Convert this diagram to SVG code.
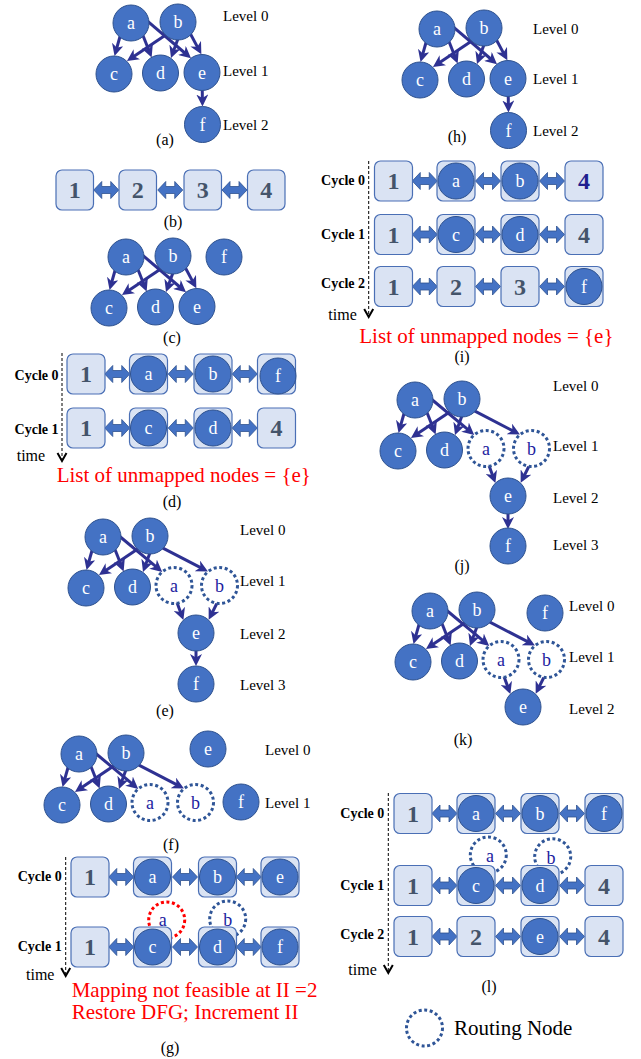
<svg xmlns="http://www.w3.org/2000/svg" width="641" height="1059" viewBox="0 0 641 1059">
<defs>
<style>
text{font-family:"Liberation Serif","Times New Roman",serif}
.n circle{fill:#4472C4;stroke:#2F528F;stroke-width:1}
.n text{fill:#fff;font-size:18px;text-anchor:middle}
.rt circle{fill:#fff;stroke:#2F5597;stroke-width:3;stroke-dasharray:3 2.6}
.rg circle{fill:none;stroke:#2F5597;stroke-width:3;stroke-dasharray:3 2.6}
.rr circle{fill:none;stroke:#FF0000;stroke-width:3;stroke-dasharray:3 2.6}
.rt text,.rg text,.rr text{fill:#1C1CA0;font-size:18px;text-anchor:middle}
.edges line{stroke:#2E3192;stroke-width:3;marker-end:url(#ah)}
.bx rect{fill:#DAE3F3;stroke:#4A6FB5;stroke-width:1.2}
.bx text{fill:#44546A;font-size:24px;font-weight:bold;text-anchor:middle}
.bx text.nv{fill:#1F1F8F}
.lv{font-size:15px;fill:#000}
.cap{font-size:16px;text-anchor:middle;fill:#000}
.cyc{font-size:14px;font-weight:bold;text-anchor:end;fill:#000}
.tm{font-size:16px;fill:#000}
.red{font-size:21px;fill:#FF0000}
.ax line{stroke:#000;stroke-width:1;stroke-dasharray:3 2}
.ax path{fill:none;stroke:#000;stroke-width:2}
.da use{fill:#4472C4;stroke:#2F528F;stroke-width:0.8}
</style>
<marker id="ah" viewBox="0 0 12 12" refX="7" refY="6" markerWidth="12" markerHeight="12" markerUnits="userSpaceOnUse" orient="auto"><path d="M0 0 L12 6 L0 12 L3.5 6 Z" fill="#2E3192"/></marker>
<path id="dbl" d="M0 0 l8 -8.5 v5 h9 v-5 l8 8.5 l-8 8.5 v-5 h-9 v5 z"/>
</defs>
<rect width="641" height="1059" fill="#fff"/>

<!-- (a) -->
<g id="fig-a">
<g transform="translate(131,23)">
<g id="a-edges" class="edges">
<line x1="-10" y1="10" x2="-15.1" y2="28.1"/>
<line x1="11" y1="10" x2="18.8" y2="29.8"/>
<line x1="15.3" y1="-2.9" x2="56.2" y2="32"/>
<line x1="39.1" y1="8.9" x2="0.1" y2="35.2"/>
<line x1="48.6" y1="11.2" x2="41.7" y2="30.3"/>
<line x1="57.9" y1="8" x2="68" y2="26.9"/>
<line x1="71.2" y1="62" x2="71.4" y2="78.5"/>
</g>
<g id="a-na" class="n"><circle cx="0" cy="0" r="18"/><text x="0" y="6">a</text></g>
<g id="a-nb" class="n"><circle cx="47" cy="-1" r="18"/><text x="47" y="5">b</text></g>
<g id="a-nc" class="n"><circle cx="-17" cy="51" r="18"/><text x="-17" y="57">c</text></g>
<g id="a-nd" class="n"><circle cx="29.5" cy="50" r="18"/><text x="29.5" y="56">d</text></g>
<g id="a-ne" class="n"><circle cx="71" cy="49.5" r="18"/><text x="71" y="55.5">e</text></g>
<g id="a-nf" class="n"><circle cx="71.5" cy="101.5" r="18"/><text x="71.5" y="107.5">f</text></g>
</g>
<text class="lv" x="223" y="21">Level 0</text>
<text class="lv" x="223" y="76">Level 1</text>
<text class="lv" x="223" y="130">Level 2</text>
<text class="cap" x="165" y="145">(a)</text>
</g>

<!-- (b) -->
<g id="fig-b">
<g id="b-arrows" class="da">
<use href="#dbl" x="93.75" y="190"/>
<use href="#dbl" x="157.75" y="190"/>
<use href="#dbl" x="222" y="190"/>
</g>
<g id="b-1" class="bx"><rect x="56" y="170" width="37.5" height="40" rx="6"/><text x="74.75" y="198">1</text></g>
<g id="b-2" class="bx"><rect x="119" y="170" width="37.5" height="40" rx="6"/><text x="137.75" y="198">2</text></g>
<g id="b-3" class="bx"><rect x="184" y="170" width="37.5" height="40" rx="6"/><text x="202.75" y="198">3</text></g>
<g id="b-4" class="bx"><rect x="247.5" y="170" width="37.5" height="40" rx="6"/><text x="266.25" y="198">4</text></g>
<text class="cap" x="173" y="227">(b)</text>
</g>

<!-- (c) -->
<g id="fig-c">
<g transform="translate(126,257)">
<g id="c-edges" class="edges">
<line x1="-10" y1="10" x2="-15.1" y2="28.1"/>
<line x1="11" y1="10" x2="18.8" y2="29.8"/>
<line x1="15.3" y1="-2.9" x2="56.2" y2="32"/>
<line x1="39.1" y1="8.9" x2="0.1" y2="35.2"/>
<line x1="48.6" y1="11.2" x2="41.7" y2="30.3"/>
<line x1="57.9" y1="8" x2="68" y2="26.9"/>
</g>
<g id="c-na" class="n"><circle cx="0" cy="0" r="18"/><text x="0" y="6">a</text></g>
<g id="c-nb" class="n"><circle cx="47" cy="-1" r="18"/><text x="47" y="5">b</text></g>
<g id="c-nf" class="n"><circle cx="98" cy="0" r="18"/><text x="98" y="6">f</text></g>
<g id="c-nc" class="n"><circle cx="-17" cy="51" r="18"/><text x="-17" y="57">c</text></g>
<g id="c-nd" class="n"><circle cx="29.5" cy="50" r="18"/><text x="29.5" y="56">d</text></g>
<g id="c-ne" class="n"><circle cx="71" cy="49.5" r="18"/><text x="71" y="55.5">e</text></g>
</g>
<text class="cap" x="172" y="343">(c)</text>
</g>

<!-- (d) -->
<g id="fig-d">
<g id="d-axis" class="ax"><line x1="62" y1="353" x2="62" y2="459"/><path d="M57.5 453 L62 461 L66.5 453"/></g>
<text class="cyc" x="58.5" y="380">Cycle 0</text>
<text class="cyc" x="58.5" y="434">Cycle 1</text>
<text class="tm" x="16.7" y="461">time</text>
<g id="d-arrows" class="da">
<use href="#dbl" x="104.75" y="374"/><use href="#dbl" x="168.25" y="374"/><use href="#dbl" x="232.25" y="374"/>
<use href="#dbl" x="104.75" y="428"/><use href="#dbl" x="168.25" y="428"/><use href="#dbl" x="232.25" y="428"/>
</g>
<g id="d-r0c0" class="bx"><rect x="67" y="354" width="38" height="40" rx="6"/><text x="86" y="382">1</text></g>
<g id="d-r0c1" class="bx"><rect x="129.5" y="354" width="38" height="40" rx="6"/></g>
<g id="d-r0c1n" class="n"><circle cx="148.5" cy="374" r="18"/><text x="148.5" y="380">a</text></g>
<g id="d-r0c2" class="bx"><rect x="194" y="354" width="38" height="40" rx="6"/></g>
<g id="d-r0c2n" class="n"><circle cx="213" cy="374" r="18"/><text x="213" y="380">b</text></g>
<g id="d-r0c3" class="bx"><rect x="257.5" y="354" width="38" height="40" rx="6"/></g>
<g id="d-r0c3n" class="n"><circle cx="278" cy="376" r="18"/><text x="278" y="382">f</text></g>
<g id="d-r1c0" class="bx"><rect x="67" y="408" width="38" height="40" rx="6"/><text x="86" y="436">1</text></g>
<g id="d-r1c1" class="bx"><rect x="129.5" y="408" width="38" height="40" rx="6"/></g>
<g id="d-r1c1n" class="n"><circle cx="148.5" cy="428" r="18"/><text x="148.5" y="434">c</text></g>
<g id="d-r1c2" class="bx"><rect x="194" y="408" width="38" height="40" rx="6"/></g>
<g id="d-r1c2n" class="n"><circle cx="213" cy="428" r="18"/><text x="213" y="434">d</text></g>
<g id="d-r1c3" class="bx"><rect x="257.5" y="408" width="38" height="40" rx="6"/><text x="276.5" y="436">4</text></g>
<text class="red" x="56.7" y="482">List of unmapped nodes = {e}</text>
<text class="cap" x="172" y="507">(d)</text>
</g>

<!-- (e) -->
<g id="fig-e">
<g transform="translate(103,537)">
<g id="e-edges" class="edges">
<line x1="-10" y1="10" x2="-15.1" y2="28.1"/>
<line x1="11" y1="10" x2="18.8" y2="29.8"/>
<line x1="15" y1="-2" x2="55.4" y2="31.7"/>
<line x1="39.1" y1="8.9" x2="0.1" y2="35.2"/>
<line x1="48.6" y1="11.2" x2="41.7" y2="30.3"/>
<line x1="58" y1="10.2" x2="100.5" y2="32.2"/>
<line x1="72" y1="60" x2="78.7" y2="78.4"/>
<line x1="117" y1="60" x2="107.9" y2="78.3"/>
<line x1="93" y1="110" x2="93" y2="124"/>
</g>
<g id="e-na" class="n"><circle cx="0" cy="0" r="18"/><text x="0" y="6">a</text></g>
<g id="e-nb" class="n"><circle cx="47" cy="-1" r="18"/><text x="47" y="5">b</text></g>
<g id="e-nc" class="n"><circle cx="-17" cy="51" r="18"/><text x="-17" y="57">c</text></g>
<g id="e-nd" class="n"><circle cx="29.5" cy="50" r="18"/><text x="29.5" y="56">d</text></g>
<g id="e-ra" class="rt"><circle cx="71" cy="48.5" r="18"/><text x="71" y="54.5">a</text></g>
<g id="e-rb" class="rt"><circle cx="116.5" cy="48.5" r="18"/><text x="116.5" y="54.5">b</text></g>
<g id="e-ne" class="n"><circle cx="93" cy="96" r="18"/><text x="93" y="102">e</text></g>
<g id="e-nf" class="n"><circle cx="93" cy="147" r="18"/><text x="93" y="153">f</text></g>
</g>
<text class="lv" x="240" y="535">Level 0</text>
<text class="lv" x="240" y="586">Level 1</text>
<text class="lv" x="240" y="639">Level 2</text>
<text class="lv" x="240" y="690">Level 3</text>
<text class="cap" x="165" y="716">(e)</text>
</g>

<!-- (f) -->
<g id="fig-f">
<g transform="translate(79,754)">
<g id="f-edges" class="edges">
<line x1="-10" y1="10" x2="-15.1" y2="28.1"/>
<line x1="11" y1="10" x2="18.8" y2="29.8"/>
<line x1="15" y1="-2" x2="55.4" y2="31.7"/>
<line x1="39.1" y1="8.9" x2="0.1" y2="35.2"/>
<line x1="48.6" y1="11.2" x2="41.7" y2="30.3"/>
<line x1="58" y1="10.2" x2="100.5" y2="32.2"/>
</g>
<g id="f-na" class="n"><circle cx="0" cy="0" r="18"/><text x="0" y="6">a</text></g>
<g id="f-nb" class="n"><circle cx="47" cy="-1" r="18"/><text x="47" y="5">b</text></g>
<g id="f-nc" class="n"><circle cx="-17" cy="51" r="18"/><text x="-17" y="57">c</text></g>
<g id="f-nd" class="n"><circle cx="29.5" cy="50" r="18"/><text x="29.5" y="56">d</text></g>
<g id="f-ra" class="rt"><circle cx="71" cy="48.5" r="18"/><text x="71" y="54.5">a</text></g>
<g id="f-rb" class="rt"><circle cx="116.5" cy="48.5" r="18"/><text x="116.5" y="54.5">b</text></g>
</g>
<g id="f-ne" class="n"><circle cx="208" cy="749" r="18"/><text x="208" y="755">e</text></g>
<g id="f-nf" class="n"><circle cx="241" cy="802" r="18"/><text x="241" y="808">f</text></g>
<text class="lv" x="265" y="755">Level 0</text>
<text class="lv" x="265" y="808">Level 1</text>
<text class="cap" x="171" y="850">(f)</text>
</g>

<!-- (g) -->
<g id="fig-g">
<g id="g-axis" class="ax"><line x1="65.7" y1="857" x2="65.7" y2="974"/><path d="M61.2 968 L65.7 976 L70.2 968"/></g>
<text class="cyc" x="61.7" y="881">Cycle 0</text>
<text class="cyc" x="61.7" y="951">Cycle 1</text>
<text class="tm" x="26" y="980">time</text>
<g id="g-ra" class="rr"><circle cx="166.7" cy="920" r="18"/><text x="162.7" y="926">a</text></g>
<g id="g-rb" class="rg"><circle cx="227.7" cy="919" r="18"/><text x="227.7" y="926">b</text></g>
<g id="g-arrows" class="da">
<use href="#dbl" x="108.75" y="877"/><use href="#dbl" x="172.5" y="877"/><use href="#dbl" x="236.25" y="877"/>
<use href="#dbl" x="108.75" y="947"/><use href="#dbl" x="172.5" y="947"/><use href="#dbl" x="236.25" y="947"/>
</g>
<g id="g-r0c0" class="bx"><rect x="71" y="857" width="38" height="40" rx="6"/><text x="90" y="885">1</text></g>
<g id="g-r0c1" class="bx"><rect x="133.5" y="857" width="38" height="40" rx="6"/></g>
<g id="g-r0c1n" class="n"><circle cx="152.5" cy="877" r="18"/><text x="152.5" y="883">a</text></g>
<g id="g-r0c2" class="bx"><rect x="198.5" y="857" width="38" height="40" rx="6"/></g>
<g id="g-r0c2n" class="n"><circle cx="217.5" cy="877" r="18"/><text x="217.5" y="883">b</text></g>
<g id="g-r0c3" class="bx"><rect x="261" y="857" width="38" height="40" rx="6"/></g>
<g id="g-r0c3n" class="n"><circle cx="280" cy="877" r="18"/><text x="280" y="883">e</text></g>
<g id="g-r1c0" class="bx"><rect x="71" y="927" width="38" height="40" rx="6"/><text x="90" y="955">1</text></g>
<g id="g-r1c1" class="bx"><rect x="133.5" y="927" width="38" height="40" rx="6"/></g>
<g id="g-r1c1n" class="n"><circle cx="152.5" cy="947" r="18"/><text x="152.5" y="953">c</text></g>
<g id="g-r1c2" class="bx"><rect x="198.5" y="927" width="38" height="40" rx="6"/></g>
<g id="g-r1c2n" class="n"><circle cx="217.5" cy="947" r="18"/><text x="217.5" y="953">d</text></g>
<g id="g-r1c3" class="bx"><rect x="261" y="927" width="38" height="40" rx="6"/></g>
<g id="g-r1c3n" class="n"><circle cx="280" cy="947" r="18"/><text x="280" y="953">f</text></g>
<text class="red" x="71.7" y="997">Mapping not feasible at II =2</text>
<text class="red" x="71.7" y="1019">Restore DFG; Increment II</text>
<text class="cap" x="170" y="1053">(g)</text>
</g>

<!-- (h) -->
<g id="fig-h">
<g transform="translate(437,29)">
<g id="h-edges" class="edges">
<line x1="-10" y1="10" x2="-15.1" y2="28.1"/>
<line x1="11" y1="10" x2="18.8" y2="29.8"/>
<line x1="15.3" y1="-2.9" x2="56.2" y2="32"/>
<line x1="39.1" y1="8.9" x2="0.1" y2="35.2"/>
<line x1="48.6" y1="11.2" x2="41.7" y2="30.3"/>
<line x1="57.9" y1="8" x2="68" y2="26.9"/>
<line x1="71.2" y1="62" x2="71.4" y2="78.5"/>
</g>
<g id="h-na" class="n"><circle cx="0" cy="0" r="18"/><text x="0" y="6">a</text></g>
<g id="h-nb" class="n"><circle cx="47" cy="-1" r="18"/><text x="47" y="5">b</text></g>
<g id="h-nc" class="n"><circle cx="-17" cy="51" r="18"/><text x="-17" y="57">c</text></g>
<g id="h-nd" class="n"><circle cx="29.5" cy="50" r="18"/><text x="29.5" y="56">d</text></g>
<g id="h-ne" class="n"><circle cx="71" cy="49.5" r="18"/><text x="71" y="55.5">e</text></g>
<g id="h-nf" class="n"><circle cx="71.5" cy="101.5" r="18"/><text x="71.5" y="107.5">f</text></g>
</g>
<text class="lv" x="533" y="34">Level 0</text>
<text class="lv" x="533" y="84">Level 1</text>
<text class="lv" x="533" y="136">Level 2</text>
<text class="cap" x="457" y="142">(h)</text>
</g>

<!-- (i) -->
<g id="fig-i">
<g id="i-axis" class="ax"><line x1="368.7" y1="161" x2="368.7" y2="314"/><path d="M364.2 309 L368.7 317 L373.2 309"/></g>
<text class="cyc" x="365" y="185">Cycle 0</text>
<text class="cyc" x="365" y="239">Cycle 1</text>
<text class="cyc" x="365" y="288">Cycle 2</text>
<text class="tm" x="328.3" y="320">time</text>
<g id="i-arrows" class="da">
<use href="#dbl" x="412.25" y="181"/><use href="#dbl" x="475.5" y="181"/><use href="#dbl" x="539.5" y="181"/>
<use href="#dbl" x="412.25" y="234.5"/><use href="#dbl" x="475.5" y="234.5"/><use href="#dbl" x="539.5" y="234.5"/>
<use href="#dbl" x="412.25" y="286.5"/><use href="#dbl" x="475.5" y="286.5"/><use href="#dbl" x="539.5" y="286.5"/>
</g>
<g id="i-r0c0" class="bx"><rect x="374.5" y="161" width="38" height="40" rx="6"/><text x="393.5" y="189">1</text></g>
<g id="i-r0c1" class="bx"><rect x="437" y="161" width="38" height="40" rx="6"/></g>
<g id="i-r0c1n" class="n"><circle cx="456" cy="181" r="18"/><text x="456" y="187">a</text></g>
<g id="i-r0c2" class="bx"><rect x="501" y="161" width="38" height="40" rx="6"/></g>
<g id="i-r0c2n" class="n"><circle cx="520" cy="181" r="18"/><text x="520" y="187">b</text></g>
<g id="i-r0c3" class="bx"><rect x="565" y="161" width="38" height="40" rx="6"/><text class="nv" x="584" y="189">4</text></g>
<g id="i-r1c0" class="bx"><rect x="374.5" y="214.5" width="38" height="40" rx="6"/><text x="393.5" y="242.5">1</text></g>
<g id="i-r1c1" class="bx"><rect x="437" y="214.5" width="38" height="40" rx="6"/></g>
<g id="i-r1c1n" class="n"><circle cx="456" cy="234.5" r="18"/><text x="456" y="240.5">c</text></g>
<g id="i-r1c2" class="bx"><rect x="501" y="214.5" width="38" height="40" rx="6"/></g>
<g id="i-r1c2n" class="n"><circle cx="520" cy="234.5" r="18"/><text x="520" y="240.5">d</text></g>
<g id="i-r1c3" class="bx"><rect x="565" y="214.5" width="38" height="40" rx="6"/><text x="584" y="242.5">4</text></g>
<g id="i-r2c0" class="bx"><rect x="374.5" y="266.5" width="38" height="40" rx="6"/><text x="393.5" y="294.5">1</text></g>
<g id="i-r2c1" class="bx"><rect x="437" y="266.5" width="38" height="40" rx="6"/><text x="456" y="294.5">2</text></g>
<g id="i-r2c2" class="bx"><rect x="501" y="266.5" width="38" height="40" rx="6"/><text x="520" y="294.5">3</text></g>
<g id="i-r2c3" class="bx"><rect x="565" y="266.5" width="38" height="40" rx="6"/></g>
<g id="i-r2c3n" class="n"><circle cx="584" cy="286.5" r="18"/><text x="584" y="292.5">f</text></g>
<text class="red" x="359.3" y="343">List of unmapped nodes = {e}</text>
<text class="cap" x="462" y="362">(i)</text>
</g>

<!-- (j) -->
<g id="fig-j">
<g transform="translate(415,400)">
<g id="j-edges" class="edges">
<line x1="-10" y1="10" x2="-15.1" y2="28.1"/>
<line x1="11" y1="10" x2="18.8" y2="29.8"/>
<line x1="15" y1="-2" x2="55.4" y2="31.7"/>
<line x1="39.1" y1="8.9" x2="0.1" y2="35.2"/>
<line x1="48.6" y1="11.2" x2="41.7" y2="30.3"/>
<line x1="58" y1="10.2" x2="100.5" y2="32.2"/>
<line x1="72" y1="60" x2="78.7" y2="78.4"/>
<line x1="117" y1="60" x2="107.9" y2="78.3"/>
<line x1="93" y1="110" x2="93" y2="124"/>
</g>
<g id="j-na" class="n"><circle cx="0" cy="0" r="18"/><text x="0" y="6">a</text></g>
<g id="j-nb" class="n"><circle cx="47" cy="-1" r="18"/><text x="47" y="5">b</text></g>
<g id="j-nc" class="n"><circle cx="-17" cy="51" r="18"/><text x="-17" y="57">c</text></g>
<g id="j-nd" class="n"><circle cx="29.5" cy="50" r="18"/><text x="29.5" y="56">d</text></g>
<g id="j-ra" class="rt"><circle cx="71" cy="48.5" r="18"/><text x="71" y="54.5">a</text></g>
<g id="j-rb" class="rt"><circle cx="116.5" cy="48.5" r="18"/><text x="116.5" y="54.5">b</text></g>
<g id="j-ne" class="n"><circle cx="93" cy="96" r="18"/><text x="93" y="102">e</text></g>
<g id="j-nf" class="n"><circle cx="93" cy="146" r="18"/><text x="93" y="152">f</text></g>
</g>
<text class="lv" x="553" y="391">Level 0</text>
<text class="lv" x="553" y="451">Level 1</text>
<text class="lv" x="553" y="503">Level 2</text>
<text class="lv" x="553" y="550">Level 3</text>
<text class="cap" x="462" y="571">(j)</text>
</g>

<!-- (k) -->
<g id="fig-k">
<g transform="translate(430,611)">
<g id="k-edges" class="edges">
<line x1="-10" y1="10" x2="-15.1" y2="28.1"/>
<line x1="11" y1="10" x2="18.8" y2="29.8"/>
<line x1="15" y1="-2" x2="55.4" y2="31.7"/>
<line x1="39.1" y1="8.9" x2="0.1" y2="35.2"/>
<line x1="48.6" y1="11.2" x2="41.7" y2="30.3"/>
<line x1="58" y1="10.2" x2="100.5" y2="32.2"/>
<line x1="72" y1="60" x2="78.7" y2="78.4"/>
<line x1="117" y1="60" x2="107.9" y2="78.3"/>
</g>
<g id="k-na" class="n"><circle cx="0" cy="0" r="18"/><text x="0" y="6">a</text></g>
<g id="k-nb" class="n"><circle cx="47" cy="-1" r="18"/><text x="47" y="5">b</text></g>
<g id="k-nf" class="n"><circle cx="115" cy="2" r="18"/><text x="115" y="8">f</text></g>
<g id="k-nc" class="n"><circle cx="-17" cy="51" r="18"/><text x="-17" y="57">c</text></g>
<g id="k-nd" class="n"><circle cx="29.5" cy="50" r="18"/><text x="29.5" y="56">d</text></g>
<g id="k-ra" class="rt"><circle cx="71" cy="48.5" r="18"/><text x="71" y="54.5">a</text></g>
<g id="k-rb" class="rt"><circle cx="116.5" cy="48.5" r="18"/><text x="116.5" y="54.5">b</text></g>
<g id="k-ne" class="n"><circle cx="93" cy="96" r="18"/><text x="93" y="102">e</text></g>
</g>
<text class="lv" x="569" y="611">Level 0</text>
<text class="lv" x="569" y="662">Level 1</text>
<text class="lv" x="569" y="714">Level 2</text>
<text class="cap" x="463" y="745">(k)</text>
</g>

<!-- (l) -->
<g id="fig-l">
<g id="l-axis" class="ax"><line x1="388.3" y1="793" x2="388.3" y2="971"/><path d="M383.8 965 L388.3 973 L392.8 965"/></g>
<text class="cyc" x="384.3" y="818">Cycle 0</text>
<text class="cyc" x="384.3" y="890">Cycle 1</text>
<text class="cyc" x="384.3" y="939">Cycle 2</text>
<text class="tm" x="348.3" y="975">time</text>
<g id="l-ra" class="rg"><circle cx="488.3" cy="855" r="18"/><text x="490" y="862">a</text></g>
<g id="l-rb" class="rg"><circle cx="552.7" cy="856.7" r="18"/><text x="551" y="864">b</text></g>
<g id="l-arrows" class="da">
<use href="#dbl" x="432" y="813.5"/><use href="#dbl" x="495.5" y="813.5"/><use href="#dbl" x="559.5" y="813.5"/>
<use href="#dbl" x="432" y="885.5"/><use href="#dbl" x="495.5" y="885.5"/><use href="#dbl" x="559.5" y="885.5"/>
<use href="#dbl" x="432" y="936.5"/><use href="#dbl" x="495.5" y="936.5"/><use href="#dbl" x="559.5" y="936.5"/>
</g>
<g id="l-r0c0" class="bx"><rect x="394" y="793.5" width="38" height="40" rx="6"/><text x="413" y="821.5">1</text></g>
<g id="l-r0c1" class="bx"><rect x="457" y="793.5" width="38" height="40" rx="6"/></g>
<g id="l-r0c1n" class="n"><circle cx="476" cy="813.5" r="18"/><text x="476" y="819.5">a</text></g>
<g id="l-r0c2" class="bx"><rect x="521" y="793.5" width="38" height="40" rx="6"/></g>
<g id="l-r0c2n" class="n"><circle cx="540" cy="813.5" r="18"/><text x="540" y="819.5">b</text></g>
<g id="l-r0c3" class="bx"><rect x="585" y="793.5" width="38" height="40" rx="6"/></g>
<g id="l-r0c3n" class="n"><circle cx="604" cy="813.5" r="18"/><text x="604" y="819.5">f</text></g>
<g id="l-r1c0" class="bx"><rect x="394" y="865.5" width="38" height="40" rx="6"/><text x="413" y="893.5">1</text></g>
<g id="l-r1c1" class="bx"><rect x="457" y="865.5" width="38" height="40" rx="6"/></g>
<g id="l-r1c1n" class="n"><circle cx="476" cy="885.5" r="18"/><text x="476" y="891.5">c</text></g>
<g id="l-r1c2" class="bx"><rect x="521" y="865.5" width="38" height="40" rx="6"/></g>
<g id="l-r1c2n" class="n"><circle cx="540" cy="885.5" r="18"/><text x="540" y="891.5">d</text></g>
<g id="l-r1c3" class="bx"><rect x="585" y="865.5" width="38" height="40" rx="6"/><text x="604" y="893.5">4</text></g>
<g id="l-r2c0" class="bx"><rect x="394" y="916.5" width="38" height="40" rx="6"/><text x="413" y="944.5">1</text></g>
<g id="l-r2c1" class="bx"><rect x="457" y="916.5" width="38" height="40" rx="6"/><text x="476" y="944.5">2</text></g>
<g id="l-r2c2" class="bx"><rect x="521" y="916.5" width="38" height="40" rx="6"/></g>
<g id="l-r2c2n" class="n"><circle cx="540" cy="936.5" r="18"/><text x="540" y="942.5">e</text></g>
<g id="l-r2c3" class="bx"><rect x="585" y="916.5" width="38" height="40" rx="6"/><text x="604" y="944.5">4</text></g>
<text class="cap" x="489" y="992">(l)</text>
</g>

<!-- legend -->
<g id="legend">
<g class="rg"><circle cx="424.5" cy="1028" r="18"/></g>
<text x="454" y="1035" font-size="21" fill="#000">Routing Node</text>
</g>
</svg>
